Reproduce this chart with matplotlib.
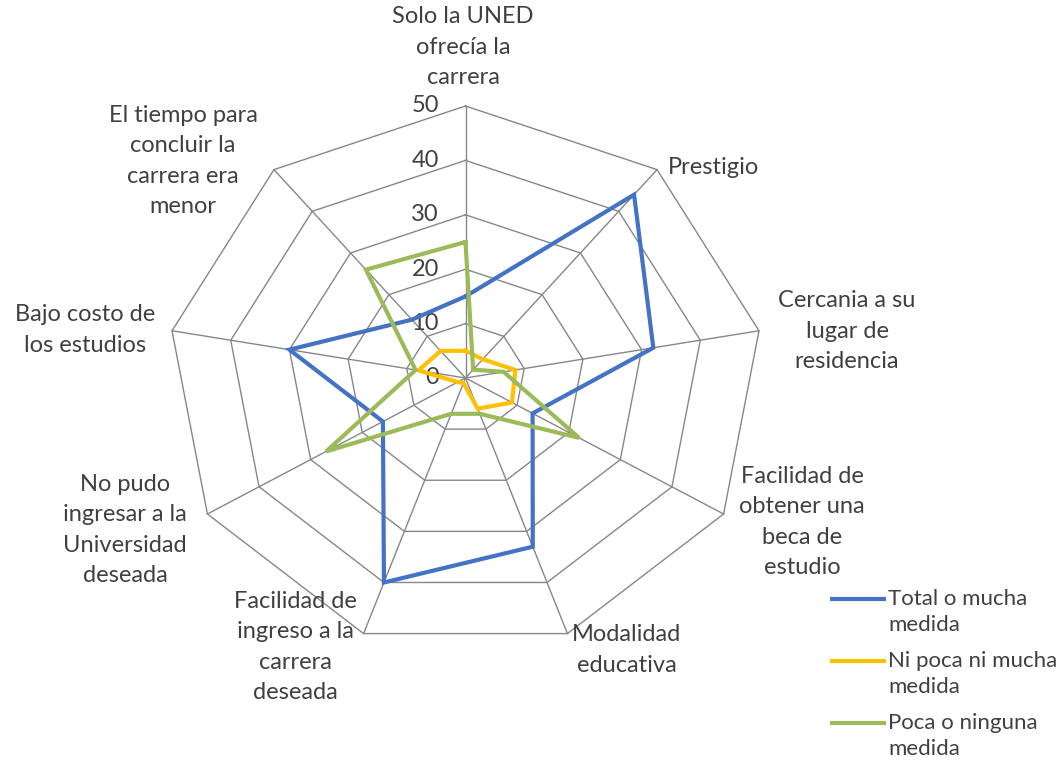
import numpy as np
import matplotlib
matplotlib.use("Agg")
import matplotlib.pyplot as plt

plt.rcParams['font.family'] = ['Lato', 'DejaVu Sans']

categories = [
    "Solo la UNED\nofrecía la\ncarrera",
    "Prestigio",
    "Cercania a su\nlugar de\nresidencia",
    "Facilidad de\nobtener una\nbeca de\nestudio",
    "Modalidad\neducativa",
    "Facilidad de\ningreso a la\ncarrera\ndeseada",
    "No pudo\ningresar a la\nUniversidad\ndeseada",
    "Bajo costo de\nlos estudios",
    "El tiempo para\nconcluir la\ncarrera era\nmenor",
]
series_names = ["Total o mucha\nmedida", "Ni poca ni mucha\nmedida", "Poca o ninguna\nmedida"]
total_mucha = [15, 44, 32, 13, 33, 40, 16, 30, 14]
ni_poca_ni_mucha = [5, 4.5, 8.5, 9, 6, 1, 1.5, 8, 6.5]
poca_ninguna = [25, 2, 6.5, 22, 7, 7, 27, 8.5, 26]
ring_values = [0, 10, 20, 30, 40, 50]
colors = ["#4472C4", "#FFC000", "#9BBB59"]

W, H = 1061, 761
cx, cy = 465.5, 378.0      # chart centre in pixels
sx, sy = 298 / 50, 272 / 50  # pixels per unit

fig = plt.figure(figsize=(W / 100, H / 100), dpi=100)
ax = fig.add_axes([0, 0, 1, 1])
ax.set_xlim(-cx / sx, (W - cx) / sx)
ax.set_ylim(-(H - cy) / sy, cy / sy)
ax.axis('off')


def px(xp, yp):
    return (xp - cx) / sx, (cy - yp) / sy


n = len(categories)
theta = np.arange(n) * 2 * np.pi / n
sin_t, cos_t = np.sin(theta), np.cos(theta)
rmax = ring_values[-1]

grid_col = "#878787"
for v in ring_values[1:]:
    xs = np.append(v * sin_t, v * sin_t[0])
    ys = np.append(v * cos_t, v * cos_t[0])
    ax.plot(xs, ys, color=grid_col, lw=1.0, zorder=1)
for i in range(n):
    ax.plot([0, rmax * sin_t[i]], [0, rmax * cos_t[i]], color=grid_col, lw=1.0, zorder=1)

txt_col = "#404040"
for v in ring_values:
    x, _ = px(439, 0)
    ax.text(x, v, str(v), ha='right', va='center', fontsize=17, color=txt_col, zorder=2)

for vals, col in zip([total_mucha, ni_poca_ni_mucha, poca_ninguna], colors):
    v = np.array(vals + [vals[0]], dtype=float)
    t = np.append(theta, theta[0])
    ax.plot(v * np.sin(t), v * np.cos(t), color=col, lw=3.0, zorder=3,
            solid_joinstyle='miter')

label_pos = [(463, 47), (668, 168), (847, 331), (802, 522), (627, 650),
             (295, 647), (125, 530), (85, 330), (183, 161)]
for lab, (xp, yp) in zip(categories, label_pos):
    x, y = px(xp, yp)
    ha = 'left' if lab == "Prestigio" else 'center'
    ax.text(x, y, lab, ha=ha, va='center', multialignment='center',
            fontsize=17, color=txt_col, linespacing=1.56, zorder=4)

leg_y = [599, 661, 723]
for name, col, yp in zip(series_names, colors, leg_y):
    x0, y0 = px(830, yp)
    x1, _ = px(886, yp)
    ax.plot([x0, x1], [y0, y0], color=col, lw=3.0, solid_capstyle='butt')
    xt, yt = px(888, yp + 13)
    ax.text(xt, yt, name, ha='left', va='center', fontsize=16, color=txt_col,
            linespacing=1.37)

fig.savefig("out.png", dpi=100)
